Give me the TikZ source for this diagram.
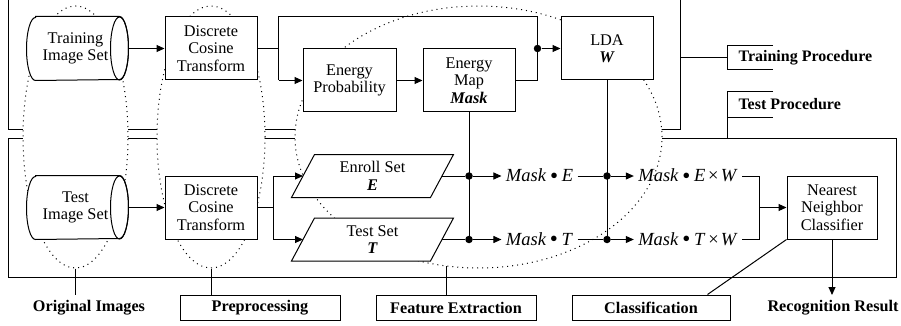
\documentclass[tikz,border=0pt]{standalone}
\usepackage{fontspec}
\setmainfont{Liberation Serif}
\usetikzlibrary{shapes.geometric,arrows.meta}

% horizontal drum: half ellipse on the left, full end face on the right
\newcommand\cylinderoutline[1]{%
  \filldraw[fill=white]
    ([xshift=9pt]#1.north west) -- ([xshift=-9pt]#1.north east)
    arc[start angle=90, end angle=-90, x radius=9pt, y radius=31.5pt]
    -- ([xshift=9pt]#1.south west)
    arc[start angle=270, end angle=90, x radius=9pt, y radius=31.5pt] -- cycle;
  \draw ([xshift=-9pt]#1.east) ellipse [x radius=9pt, y radius=31.5pt];}
% data set drawn as a parallelogram leaning to the right
\newcommand\slantoutline[1]{%
  \filldraw[fill=white]
    ([xshift=23pt]#1.north west) -- (#1.north east)
    -- ([xshift=-23pt]#1.south east) -- (#1.south west) -- cycle;}
\newcommand\dotop{\hspace{0.2em}\raisebox{-1.2pt}{\fontsize{23}{23}\selectfont•}\hspace{0.2em}}
\newcommand\crossop{\hspace{0.15em}×\hspace{0.12em}}

\begin{document}
\begin{tikzpicture}[x=1pt, y=-1pt, line width=1pt,
  every node/.style={font=\fontsize{16.3}{17.5}\selectfont, inner sep=0pt, align=center},
  frame/.style={draw, anchor=north west},
  group/.style={ellipse, draw, fill=white, dash pattern=on 1pt off 4pt},
  procbox/.style={draw, fill=white, minimum width=92pt, minimum height=63pt},
  cylbox/.style={minimum width=101pt, minimum height=63pt},
  slantbox/.style={minimum width=161pt, minimum height=42pt},
  tag/.style={draw, minimum width=160pt, minimum height=25pt,
    font=\bfseries\fontsize{16.2}{18}\selectfont},
  plain/.style={minimum height=25pt, font=\bfseries\fontsize{16.2}{18}\selectfont},
  bracket/.style={anchor=west, minimum height=23pt, inner xsep=11pt,
    font=\bfseries\fontsize{16}{18}\selectfont},
  product/.style={font=\fontsize{18.5}{20}\selectfont, inner xsep=4pt},
  flow/.style={-{Triangle[length=8pt,width=7pt]}},
  joint/.style={circle, fill, inner sep=0pt, minimum size=7.5pt}
]
\useasboundingbox (0,0) rectangle (901,326);

% procedure frames
\node[frame, minimum width=672pt, minimum height=149pt] (trainframe) at (8,-20) {};
\node[frame, minimum width=888pt, minimum height=139pt] (testframe) at (8,138) {};

% stage groups
\node[group, minimum width=105pt, minimum height=262pt] (origgrp) at (75.5,137) {};
\node[group, minimum width=108pt, minimum height=262pt] (pregrp) at (211,137) {};
\node[group, minimum width=367pt, minimum height=262pt] (featgrp) at (478.5,137) {};

% training path
\node[cylbox] (trimg) at (77.5,48.5) {};
\cylinderoutline{trimg}
\node (trimgtxt) at ([xshift=-2pt]trimg.center) {Training\\Image Set};
\node[procbox] (dcttr) at (211,48.5) {Discrete\\Cosine\\Transform};
\node[procbox, minimum width=93pt] (prob) at (349.5,80.5) {Energy\\Probability};
\node[procbox] (emap) at (469,80.5) {Energy\\Map\\\textbf{\textit{Mask}}};
\node[procbox] (lda) at (607,48.5) {LDA\\\textbf{\textit{W}}};

% test path
\node[cylbox] (tsimg) at (77.5,207.5) {};
\cylinderoutline{tsimg}
\node (tsimgtxt) at ([xshift=-2pt]tsimg.center) {Test\\Image Set};
\node[procbox] (dctts) at (211,207.5) {Discrete\\Cosine\\Transform};
\node[slantbox] (enroll) at (372.5,176) {};
\slantoutline{enroll}
\node (enrolltxt) at (enroll.center) {Enroll Set\\\textbf{\textit{E}}};
\node[slantbox] (probe) at (372.5,239.5) {};
\slantoutline{probe}
\node (probetxt) at (probe.center) {Test Set\\\textbf{\textit{T}}};
\node[procbox, minimum width=90pt] (nn) at (832,207.5) {Nearest\\Neighbor\\Classifier};

% projected features
\node[product] (mE) at (539.5,176) {\textit{Mask}\dotop\textit{E}};
\node[product] (mT) at (539.5,239.5) {\textit{Mask}\dotop\textit{T}};
\node[product] (mEW) at (688,176) {\textit{Mask}\dotop\textit{E}\crossop\textit{W}};
\node[product] (mTW) at (688,239.5) {\textit{Mask}\dotop\textit{T}\crossop\textit{W}};

% training connections
\draw[flow] (trimg.east) -- (dcttr.west);
\coordinate (split) at ([xshift=21pt]dcttr.east);
\draw (dcttr.east) -- (split);
\draw (split |- dcttr.north) -- (split |- prob.west);
\draw[flow] (split |- prob.west) -- (prob.west);
\draw[flow] (prob.east) -- (emap.west);
\node[joint] (jlda) at ([xshift=-23pt]lda.west) {};
\draw (split |- dcttr.north) -| (jlda.center |- emap.east) -- (emap.east);
\draw[flow] (jlda) -- (lda.west);

% test connections
\draw[flow] (tsimg.east) -- (dctts.west);
\coordinate (fork) at ([xshift=16pt]dctts.east);
\draw (dctts.east) -- (fork);
\draw (fork |- enroll.west) -- (fork |- probe.west);
\draw[flow] (fork |- enroll.west) -- ([xshift=11.5pt]enroll.west);
\draw[flow] (fork |- probe.west) -- ([xshift=11.5pt]probe.west);

% applying the mask
\node[joint] (jE) at (emap.south |- enroll.east) {};
\node[joint] (jT) at (emap.south |- probe.east) {};
\draw (emap.south) -- (jT.center);
\draw ([xshift=-11.5pt]enroll.east) -- (jE);
\draw ([xshift=-11.5pt]probe.east) -- (jT);
\draw[flow] (jE) -- (mE.west);
\draw[flow] (jT) -- (mT.west);

% applying the LDA projection
\node[joint] (jEW) at (lda.south |- mE.east) {};
\node[joint] (jTW) at (lda.south |- mT.east) {};
\draw (lda.south) -- (jTW.center);
\draw (mE.east) -- (jEW);
\draw (mT.east) -- (jTW);
\draw[flow] (jEW) -- (mEW.west);
\draw[flow] (jTW) -- (mTW.west);

% classification
\coordinate (merge) at ([xshift=-27pt]nn.west);
\draw (mEW.east) -| (merge);
\draw (mTW.east) -| (merge);
\draw[flow] (merge) -- (nn.west);
\node[plain] (result) at (833,308) {Recognition Result};
\draw[flow] (nn.south) -- (nn.south |- result.north);

% stage labels
\node[plain] (origlbl) at (89,308) {Original Images};
\node[tag] (prelbl) at (260,307.5) {Preprocessing};
\node[tag] (featlbl) at (456,307.5) {Feature Extraction};
\node[tag, minimum width=158pt] (clslbl) at (651,307.5) {Classification};
\draw (origgrp.south) -- (origgrp.south |- origlbl.north);
\draw (pregrp.south) -- (pregrp.south |- prelbl.north);
\draw (featgrp.256) -- (featgrp.256 |- featlbl.north);
\draw ([xshift=-23pt]clslbl.north east) -- (nn.south west);

% procedure labels
\node[bracket] (trainlbl) at (727,57.5) {Training Procedure};
\draw ([xshift=46pt]trainlbl.north west) -- (trainlbl.north west)
  -- (trainlbl.south west) -- ([xshift=46pt]trainlbl.south west);
\draw (trainlbl.west -| trainframe.east) -- (trainlbl.west);
\node[bracket, minimum height=25pt] (testlbl) at (727,104.5) {Test Procedure};
\draw ([xshift=46pt]testlbl.north west) -- (testlbl.north west)
  -- (testlbl.south west) -- ([xshift=46pt]testlbl.south west);
\draw (testlbl.south west) -- (testlbl.south west |- testframe.north);
\end{tikzpicture}
\end{document}
